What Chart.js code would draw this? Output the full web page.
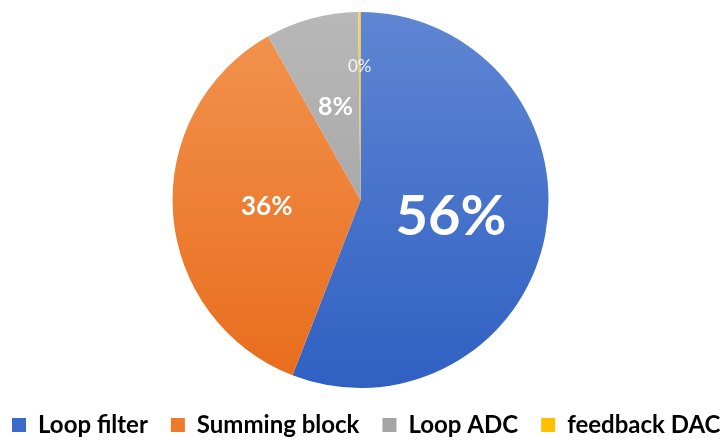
<!DOCTYPE html>
<html><head><meta charset="utf-8">
<script src="https://cdn.jsdelivr.net/npm/chart.js@4/dist/chart.umd.min.js"></script>
<style>html,body{margin:0;padding:0;background:#fff}#wrap{width:721px;height:441px}</style>
</head><body><div id="wrap"><canvas id="c" width="721" height="441"></canvas></div>
<script>
const categories = ['Loop filter', 'Summing block', 'Loop ADC', 'feedback DAC'];
const values = [56, 36, 8, 0.2];
const gradTop = ['#5f86d3', '#f29450', '#b8b8b8', '#ffd24d'];
const gradBottom = ['#2f60c2', '#e86c1b', '#9b9b9b', '#f0b400'];
const legendColors = ['#3a6bc8', '#ee7a2e', '#a5a5a5', '#ffc000'];
const labelSizes = [56, 26, 25, 17];
const labelWeights = ['bold', 'bold', 'bold', 'normal'];
const labelDist = [0.49, 0.5, 0.51, 0.71];

const total = values.reduce((a, b) => a + b, 0);
const LEGEND_PAD = 23;

const labelPlugin = {
  id: 'sliceLabels',
  beforeLayout(chart) {
    const lg = chart.legend;
    if (lg && !lg._patched) {
      const orig = lg.fit;
      lg.fit = function () {
        this.maxWidth = 5000;
        orig.call(this);
        this.width = chart.width;
        this.height = 53;
      };
      lg._patched = true;
    }
  },
  afterLayout(chart) {
    const lg = chart.legend;
    if (lg) {
      lg.top = 390; lg.bottom = lg.top + lg.height;
      const lw = (lg.lineWidths && lg.lineWidths[0]) || 760;
      const startX = 12;
      lg.right = 3000;
      lg.left = 2 * startX - LEGEND_PAD + lw - lg.right;
    }
  },
  afterDatasetsDraw(chart) {
    const ctx = chart.ctx;
    const meta = chart.getDatasetMeta(0);
    meta.data.forEach((arc, i) => {
      const p = arc.getProps(['x', 'y', 'startAngle', 'endAngle', 'outerRadius']);
      const mid = (p.startAngle + p.endAngle) / 2;
      const r = p.outerRadius * labelDist[i];
      const x = p.x + Math.cos(mid) * r;
      const y = p.y + Math.sin(mid) * r;
      ctx.save();
      ctx.fillStyle = i === 3 ? 'rgba(255,255,255,0.9)' : '#ffffff';
      ctx.font = labelWeights[i] + ' ' + labelSizes[i] + 'px Lato, "Open Sans", sans-serif';
      ctx.textAlign = 'center';
      ctx.textBaseline = 'middle';
      ctx.fillText(Math.round(values[i] / total * 100) + '%', x, y);
      ctx.restore();
    });
  }
};

function sliceGradient(c) {
  const i = c.dataIndex;
  const chart = c.chart;
  const a = chart.chartArea;
  if (!a) return legendColors[i];
  const g = chart.ctx.createLinearGradient(0, a.top, 0, a.bottom);
  g.addColorStop(0, gradTop[i]);
  g.addColorStop(1, gradBottom[i]);
  return g;
}

new Chart(document.getElementById('c'), {
  type: 'pie',
  data: {
    labels: categories,
    datasets: [{
      data: values,
      backgroundColor: sliceGradient,
      borderColor: 'rgba(255,255,255,0)',
      borderWidth: 0
    }]
  },
  options: {
    responsive: false,
    animation: false,
    layout: { padding: { top: 12, bottom: 0, left: 0, right: 0 } },
    plugins: {
      tooltip: { enabled: false },
      legend: {
        position: 'bottom',
        labels: {
          boxWidth: 14,
          boxHeight: 14,
          padding: LEGEND_PAD,
          color: '#595959',
          font: { family: 'Lato, "Open Sans", sans-serif', size: 24, weight: 'bold' },
          generateLabels: (chart) => categories.map((t, i) => ({
            text: t, fillStyle: legendColors[i], strokeStyle: legendColors[i], lineWidth: 0, index: i, hidden: false
          }))
        }
      }
    }
  },
  plugins: [labelPlugin]
});
</script></body></html>
